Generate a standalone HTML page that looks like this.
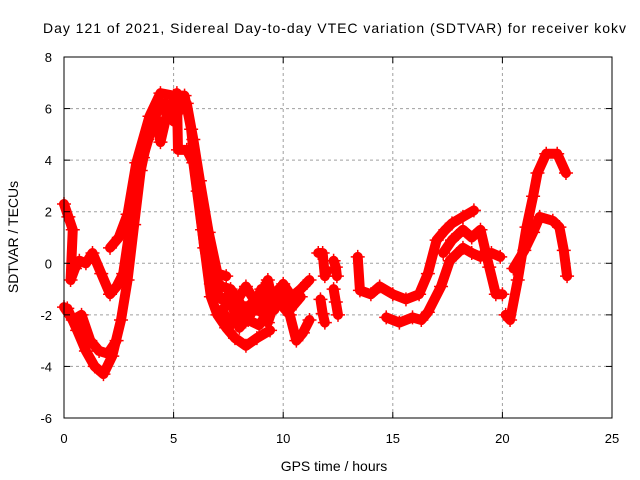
<!DOCTYPE html>
<html><head><meta charset="utf-8"><style>
html,body{margin:0;padding:0;background:#fff;}
svg{display:block;font-family:"Liberation Sans",sans-serif;}
</style></head><body>
<svg id="chart" width="640" height="480">
<rect width="640" height="480" fill="#fff"/>
<text x="43" y="33" font-size="14" textLength="583">Day 121 of 2021, Sidereal Day-to-day VTEC variation (SDTVAR) for receiver kokv</text>
<g id="grid"></g>
<g id="series"></g>
<rect x="64" y="57" width="548" height="361" fill="none" stroke="#000" stroke-width="1"/>
<g id="ticks"></g>
<text x="334" y="471" font-size="14" text-anchor="middle">GPS time / hours</text>
<text transform="translate(18,237) rotate(-90)" font-size="14" text-anchor="middle">SDTVAR / TECUs</text>
</svg>
<script>
const xTicks=[0,5,10,15,20,25];
const yTicks=[-6,-4,-2,0,2,4,6,8];
const trackA=[[0.15,-1.75],[0.6,-2.6],[1.0,-3.4],[1.4,-4.0],[1.8,-4.3],[2.2,-3.6],[2.6,-2.2],[2.9,-0.65],[3.2,1.5],[3.5,3.6],[3.8,4.8],[4.2,5.65],[4.4,4.7],[4.7,5.8],[5.15,6.6],[5.2,4.4],[5.6,4.4],[5.9,3.9],[6.3,1.3],[6.7,-1.3],[7.0,-2.0],[7.4,-2.5],[7.8,-2.9],[8.3,-3.2],[8.8,-2.9],[9.4,-2.6]];
const trackB=[[0.0,2.3],[0.2,1.8],[0.4,1.3],[0.3,-0.65],[0.5,-0.2],[0.7,0.1],[1.0,0.0],[1.3,0.4],[1.7,-0.4],[2.1,-1.2],[2.4,-0.9],[2.7,-0.4],[3.1,1.9],[3.6,4.1],[4.2,5.8],[4.6,6.2],[5.0,5.5],[5.3,6.0],[5.6,6.2],[5.9,4.8],[6.2,3.2],[6.6,1.2],[7.0,-0.4],[7.4,-0.5]];
const trackC=[[2.1,0.6],[2.5,1.0],[2.9,1.9],[3.3,3.9],[3.9,5.7],[4.4,6.6],[5.0,6.5],[5.5,6.5],[5.8,5.2],[6.1,2.8],[6.4,0.6],[6.7,-0.8],[7.2,-1.4],[7.7,-1.7],[8.3,-0.9],[8.8,-1.6],[9.3,-0.65],[9.6,-1.8],[10.0,-0.8],[10.4,-1.3],[10.8,-1.0],[11.2,-0.65]];
const trackD=[[0.0,-1.7],[0.4,-2.2],[0.8,-2.0],[1.2,-3.0],[1.6,-3.4],[2.0,-3.5],[2.4,-3.0]];
const trackE=[[7.2,-1.8],[7.6,-2.4],[8.0,-2.0],[8.5,-1.6],[9.0,-1.9],[9.5,-1.3],[9.9,-1.6],[10.3,-2.0],[10.6,-3.0],[10.9,-2.7],[11.2,-2.2]];
const trackF=[[11.6,0.4],[11.8,0.4],[11.9,-0.5],[12.0,-0.3]];
const trackG=[[11.7,-1.4],[11.8,-1.95],[11.9,-2.3]];
const trackH=[[12.3,0.1],[12.4,-0.15],[12.45,-0.5]];
const trackI=[[12.3,-1.0],[12.4,-1.5],[12.5,-2.0]];
const trackJ=[[13.4,0.25],[13.5,-1.05],[14.0,-1.2],[14.4,-0.9],[15.0,-1.2],[15.6,-1.4],[16.2,-1.2],[16.6,-0.4],[17.0,0.9],[17.4,1.3],[17.7,1.55],[18.2,1.8],[18.7,2.05]];
const trackK=[[14.7,-2.1],[15.3,-2.3],[15.9,-2.1],[16.3,-2.2],[16.6,-1.9],[17.2,-0.9],[17.6,0.1],[18.2,0.6],[18.6,0.4],[19.0,0.25],[19.5,0.4],[19.9,0.25]];
const trackL=[[17.3,0.4],[17.7,0.9],[18.2,1.3],[18.6,1.0],[19.0,1.3],[19.4,-0.15],[19.7,-1.2],[20.0,-1.2]];
const trackM=[[20.15,-2.0],[20.35,-2.2],[20.7,-0.65],[21.1,1.4],[21.4,2.6],[21.6,3.5],[22.0,4.25],[22.5,4.25],[22.9,3.5]];
const trackN=[[20.5,-0.2],[21.0,0.5],[21.4,1.2],[21.7,1.8],[22.3,1.65],[22.6,1.4],[22.8,0.5],[22.95,-0.5]];
const trackO=[[7.5,-1.2],[8.0,-2.5],[8.5,-2.0],[9.0,-1.0],[9.3,-2.3],[9.8,-1.0],[10.3,-1.8],[10.8,-1.3]];
const trackP=[[6.8,-0.6],[7.2,-0.9],[7.6,-1.0],[8.0,-1.5],[8.4,-2.2],[8.9,-2.4],[9.4,-1.8]];
const tracks=[trackA,trackB,trackC,trackD,trackE,trackF,trackG,trackH,trackI,trackJ,trackK,trackL,trackM,trackN,trackO,trackP];

const NS="http://www.w3.org/2000/svg";
const X0=64,X1=612,Y0=418,Y1=57;
function xs(t){return X0+(t-0)/(25-0)*(X1-X0);}
function ys(v){return Y0-(v+6)/(8+6)*(Y0-Y1);}
const grid=document.getElementById('grid'),ticks=document.getElementById('ticks'),ser=document.getElementById('series');
function mk(tag,attrs,parent){const e=document.createElementNS(NS,tag);for(const k in attrs)e.setAttribute(k,attrs[k]);parent.appendChild(e);return e;}
xTicks.forEach(t=>{const x=xs(t);
 if(t>0&&t<25){const g=mk('line',{x1:x,x2:x,y1:Y0,y2:Y1,stroke:'#a0a0a0','stroke-dasharray':'3,3'},grid);
 
 }
 mk('line',{x1:x,x2:x,y1:Y0,y2:Y0-6,stroke:'#000'},ticks);
 mk('line',{x1:x,x2:x,y1:Y1,y2:Y1+6,stroke:'#000'},ticks);
 const l=mk('text',{x:x,y:443,'font-size':13,'text-anchor':'middle'},ticks);l.textContent=t;
 
 });
yTicks.forEach(v=>{const y=ys(v);
 if(v>-6&&v<8){const g=mk('line',{x1:X0,x2:X1,y1:y,y2:y,stroke:'#a0a0a0','stroke-dasharray':'3,3'},grid);
 
 }
 mk('line',{x1:X0,x2:X0+6,y1:y,y2:y,stroke:'#000'},ticks);
 mk('line',{x1:X1,x2:X1-6,y1:y,y2:y,stroke:'#000'},ticks);
 const l=mk('text',{x:52,y:y+5,'font-size':13,'text-anchor':'end'},ticks);l.textContent=v;
 
 });
tracks.forEach((tr,i)=>{
 const pl=mk('polyline',{points:tr.map(p=>xs(p[0])+','+ys(p[1])).join(' '),fill:'none',stroke:'#ff0000','stroke-width':10,'stroke-linejoin':'round','stroke-linecap':'round'},ser);
 
 
 tr.forEach(p=>{const x=xs(p[0]),y=ys(p[1]);
  const m=mk('path',{d:`M${x-7},${y}H${x+7}M${x},${y-7}V${y+7}`,stroke:'#ff0000','stroke-width':1.5},ser);
  
  });
});
</script>
</body></html>
